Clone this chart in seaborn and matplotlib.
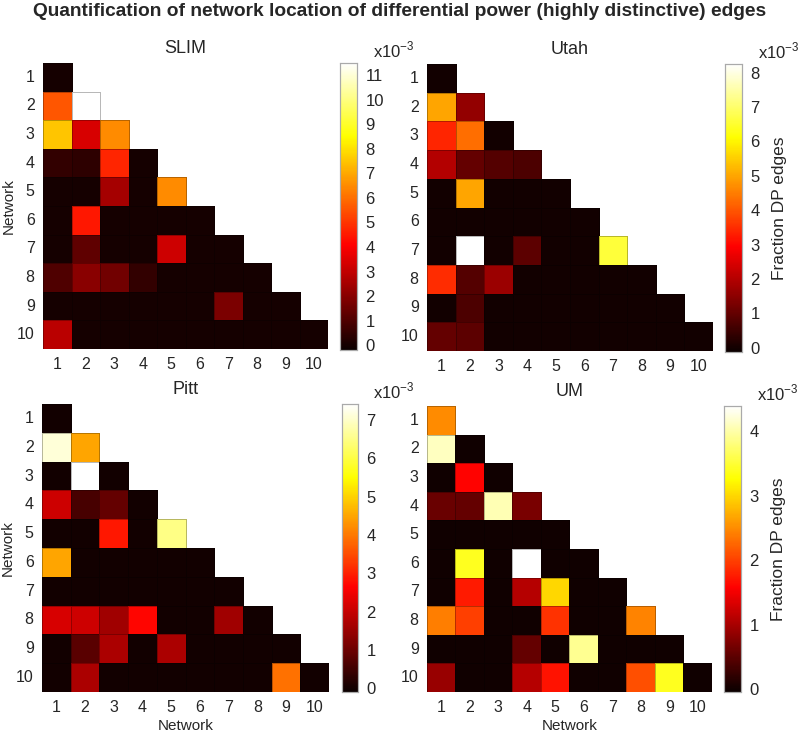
import numpy as np
import pandas as pd
import matplotlib
matplotlib.use("Agg")
import matplotlib.pyplot as plt
import seaborn as sns

sns.set_style("white")
plt.rcParams['font.family'] = ['Liberation Sans', 'DejaVu Sans']

networks = [str(i) for i in range(1, 11)]

# lower-triangle values (x10^-3), row i has i entries
slim_rows = [
    [0.0],
    [5.6, 11.5],
    [7.5, 3.4, 6.5],
    [0.5, 0.4, 4.7, 0.0],
    [0.0, 0.0, 2.5, 0.0, 6.5],
    [0.0, 4.5, 0.0, 0.0, 0.0, 0.0],
    [0.0, 1.3, 0.0, 0.0, 3.2, 0.0, 0.0],
    [1.0, 2.0, 1.6, 0.5, 0.0, 0.0, 0.0, 0.0],
    [0.0, 0.0, 0.0, 0.0, 0.0, 0.0, 1.8, 0.0, 0.0],
    [2.9, 0.0, 0.0, 0.0, 0.0, 0.0, 0.0, 0.0, 0.0, 0.0],
]
utah_rows = [
    [0.0],
    [5.0, 1.6],
    [3.4, 4.3, 0.0],
    [2.0, 1.0, 0.8, 0.7],
    [0.0, 5.0, 0.0, 0.0, 0.0],
    [0.0, 0.0, 0.0, 0.0, 0.0, 0.0],
    [0.0, 8.25, 0.0, 0.9, 0.0, 0.0, 6.6],
    [3.5, 0.8, 1.7, 0.0, 0.0, 0.0, 0.0, 0.0],
    [0.0, 0.7, 0.0, 0.0, 0.0, 0.0, 0.0, 0.0, 0.0],
    [1.0, 0.9, 0.0, 0.0, 0.0, 0.0, 0.0, 0.0, 0.0, 0.0],
]
pitt_rows = [
    [0.0],
    [7.1, 4.5],
    [0.0, 7.42, 0.0],
    [2.1, 0.6, 0.9, 0.0],
    [0.0, 0.0, 2.9, 0.0, 6.5],
    [4.5, 0.0, 0.0, 0.0, 0.0, 0.0],
    [0.0, 0.0, 0.0, 0.0, 0.0, 0.0, 0.0],
    [2.2, 2.1, 1.6, 2.7, 0.0, 0.0, 1.6, 0.0],
    [0.0, 0.8, 1.7, 0.0, 1.7, 0.0, 0.0, 0.0, 0.0],
    [0.0, 1.7, 0.0, 0.0, 0.0, 0.0, 0.0, 0.0, 3.9, 0.0],
]
um_rows = [
    [2.5],
    [4.1, 0.0],
    [0.0, 1.6, 0.0],
    [0.6, 0.55, 4.05, 0.7],
    [0.0, 0.0, 0.0, 0.0, 0.0],
    [0.0, 3.4, 0.0, 4.39, 0.0, 0.0],
    [0.0, 1.75, 0.0, 1.1, 3.0, 0.0, 0.0],
    [2.4, 2.0, 0.0, 0.0, 1.9, 0.0, 0.0, 2.45],
    [0.0, 0.0, 0.0, 0.55, 0.0, 3.9, 0.0, 0.0, 0.0],
    [0.9, 0.0, 0.0, 1.1, 1.7, 0.0, 0.0, 2.1, 3.4, 0.0],
]

sites = ["SLIM", "Utah", "Pitt", "UM"]
site_rows = [slim_rows, utah_rows, pitt_rows, um_rows]
cbar_ranges = [(-0.2, 11.5), (-0.12, 8.25), (-0.1, 7.42), (-0.04, 4.39)]
cbar_ticks = [list(range(0, 12)), list(range(0, 9)), list(range(0, 8)), list(range(0, 5))]


def to_frame(rows):
    m = np.full((10, 10), np.nan)
    for i, r in enumerate(rows):
        m[i, :len(r)] = r
    return pd.DataFrame(m, index=networks, columns=networks)


W, H = 800, 733
fig = plt.figure(figsize=(W / 100, H / 100), dpi=100)

# pixel boxes: (left, top, width, height)
heat_boxes = [(43, 63, 285, 286), (427, 64, 286, 287), (42, 404, 287, 288), (427, 406, 285, 286)]
cbar_boxes = [(340, 63, 17, 287), (725, 64, 17, 288), (342, 404, 16, 288), (724, 406, 17, 286)]


def fbox(b):
    l, t, w, h = b
    return [l / W, 1 - (t + h) / H, w / W, h / H]


for k in range(4):
    ax = fig.add_axes(fbox(heat_boxes[k]))
    cax = fig.add_axes(fbox(cbar_boxes[k]))
    df = to_frame(site_rows[k])
    vmin, vmax = cbar_ranges[k]
    sns.heatmap(df, ax=ax, cbar_ax=cax, cmap="hot", vmin=vmin, vmax=vmax,
                mask=df.isna(), linewidths=0.65,
                cbar_kws={"ticks": cbar_ticks[k]})
    # semi-transparent dark cell edges, none on masked cells
    mesh = ax.collections[0]
    mesh.update_scalarmappable()
    valid = ~df.isna().values.ravel()
    ec = np.zeros((valid.size, 4))
    ec[valid, 3] = 0.28
    mesh.set_edgecolor(ec)

    ax.set_title(sites[k], fontsize=13, pad=7)
    ax.tick_params(length=0, labelsize=11.5, pad=6)
    ax.set_yticklabels(networks, rotation=0)
    ax.set_xticklabels(networks, rotation=0)
    if k in (0, 2):
        ax.set_ylabel("Network", fontsize=11, labelpad=1)
    else:
        ax.set_ylabel("")
    if k in (2, 3):
        ax.set_xlabel("Network", fontsize=11, labelpad=3)
    else:
        ax.set_xlabel("")
    # colorbar styling
    cax.tick_params(direction="in", left=True, right=True, length=3, width=0.6,
                    color="#888888", labelsize=12, pad=6, labelleft=False, labelright=True)
    for sp in cax.spines.values():
        sp.set_visible(True)
        sp.set_color("#aaaaaa")
        sp.set_linewidth(0.8)
    cax.text(1.95, 1.01, r"x10$^{\mathregular{-3}}$", transform=cax.transAxes,
             fontsize=12, ha="left", va="bottom")
    if k in (1, 3):
        cax.set_ylabel("Fraction DP edges", fontsize=12.5, labelpad=9)

fig.text(0.5, 1 - 12 / H, "Quantification of network location of differential power (highly distinctive) edges",
         ha="center", va="center", fontsize=13.8, fontweight="bold")

fig.savefig("out.png", dpi=100)
